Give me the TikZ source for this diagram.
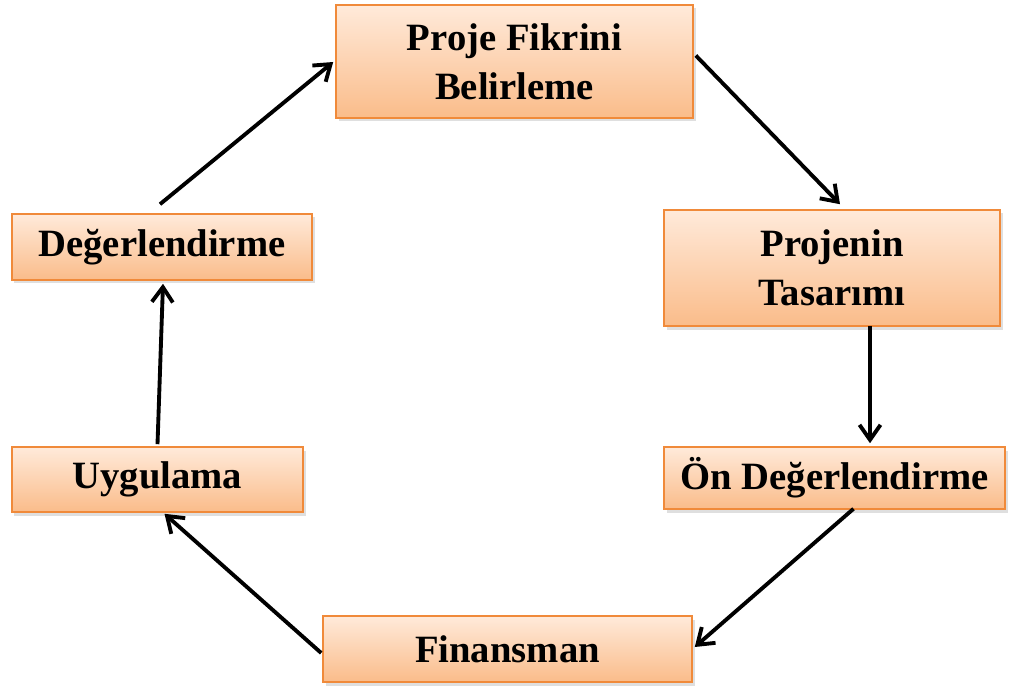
\documentclass[tikz,border=0pt]{standalone}
\usepackage{fontspec}
\setmainfont{Liberation Serif}
\usepackage{xcolor}
\usetikzlibrary{arrows.meta}
\usetikzlibrary{calc}
\usetikzlibrary{shadows}
\definecolor{stageTop}{RGB}{255,234,218}
\definecolor{stageBottom}{RGB}{250,188,138}
\definecolor{stageLine}{RGB}{240,138,58}

\begin{document}
\begin{tikzpicture}[x=0.02cm, y=-0.02cm,
	stage/.style={draw=stageLine, line width=0.9pt, top color=stageTop, bottom color=stageBottom,
		inner sep=0pt, align=center, font=\fontsize{22}{28}\selectfont\bfseries,
		drop shadow={shadow xshift=0.05cm, shadow yshift=-0.07cm, opacity=0.25}},
	flow/.style={line width=2.2pt, -{Straight Barb[length=0.3cm, width=0.42cm]}}]
			\useasboundingbox (0,0) rectangle (1014,689);
			\foreach \x/\y/\w/\h/\stageName/\stageText in {514.5/61.5/357/113/fikir/{Proje Fikrini\\Belirleme},
				832/268/336/116/tasarim/{Projenin\\Tasarımı},
				834.5/478/341/62/onDeger/{Ön Değerlendirme},
				507.5/649/369/66/finans/{Finansman},
				157.5/479.5/291/65/uygulama/{Uygulama},
				162/247/300/66/deger/{Değerlendirme}}
			{
				\node[stage, minimum width=\w*0.02cm, minimum height=\h*0.02cm](\stageName) at (\x,\y){\stageText};
			}
			\draw[flow] ($(fikir.east)+(2,-6)$) -- ($(tasarim.north)+(8,-5)$);
			\draw[flow] ($(tasarim.south)+(38,-1)$) -- ($(onDeger.north)+(35.5,-3)$);
			\draw[flow] ($(onDeger.south)+(19,-1)$) -- ($(finans.east)+(2,-2)$);
			\draw[flow] ($(finans.west)+(-1,4)$) -- ($(uygulama.south)+(7,1)$);
			\draw[flow] ($(uygulama.north)+(0,-2)$) -- ($(deger.south)+(1,3)$);
			\draw[flow] ($(deger.north)+(-2,-9)$) -- ($(fikir.west)+(-2,0.5)$);
\end{tikzpicture}
\end{document}
